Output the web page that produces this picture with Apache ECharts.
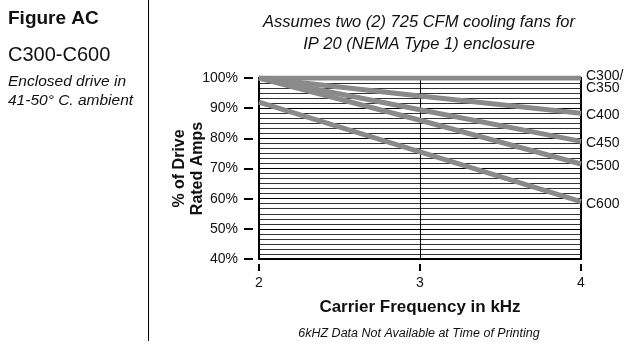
<!DOCTYPE html>
<html>
<head>
<meta charset="utf-8">
<script src="https://cdn.jsdelivr.net/npm/echarts@6/dist/echarts.min.js"></script>
<style>html,body{margin:0;padding:0;background:#fff}#c{width:636px;height:345px}</style>
</head>
<body>
<div id="c"></div>
<script>
const freqs = ['2', '3', '4'];
const yTicks = [40, 50, 60, 70, 80, 90, 100];
const c300 = [100, 100, 100];
const c400 = [100, 94, 88.3];
const c450 = [100, 89.5, 79];
const c500 = [100, 86, 71.5];
const c600 = [92, 75.5, 59];
const seriesNames = ['C300/\nC350', 'C400', 'C450', 'C500', 'C600'];
const seriesData = [c300, c400, c450, c500, c600];

const F = '"Liberation Sans", Arial, Helvetica, sans-serif';
const chart = echarts.init(document.getElementById('c'));
chart.setOption({
  animation: false,
  backgroundColor: '#fff',
  title: [
    {text: 'Figure AC', left: 8, top: 9, padding: 0, textStyle: {fontFamily: F, fontSize: 19, fontWeight: 'bold', color: '#111'}},
    {text: 'C300-C600', left: 8, top: 45, padding: 0, textStyle: {fontFamily: F, fontSize: 20, fontWeight: 'normal', color: '#111'}},
    {text: 'Enclosed drive in\n41-50° C. ambient', left: 8, top: 72, padding: 0, textStyle: {fontFamily: F, fontSize: 15.5, fontStyle: 'italic', fontWeight: 'normal', color: '#111', lineHeight: 19}},
    {text: 'Assumes two (2) 725 CFM cooling fans for\nIP 20 (NEMA Type 1) enclosure', left: 419, textAlign: 'center', top: 11, padding: 0, textStyle: {fontFamily: F, fontSize: 16.5, fontStyle: 'italic', fontWeight: 'normal', color: '#111', lineHeight: 22}},
    {text: '6kHZ Data Not Available at Time of Printing', left: 419, textAlign: 'center', top: 327, padding: 0, textStyle: {fontFamily: F, fontSize: 12.5, fontStyle: 'italic', fontWeight: 'normal', color: '#111'}}
  ],
  graphic: [
    {type: 'line', shape: {x1: 148.5, y1: 0, x2: 148.5, y2: 341}, style: {stroke: '#000', lineWidth: 1}}
  ],
  grid: {left: 259, right: 55, top: 78, bottom: 86, show: true, borderColor: '#000', borderWidth: 2, backgroundColor: 'transparent'},
  xAxis: {
    type: 'category', data: freqs, boundaryGap: false, offset: 5,
    axisLine: {show: false},
    axisTick: {show: true, length: 7, lineStyle: {color: '#000', width: 2}},
    axisLabel: {fontFamily: F, fontSize: 14, color: '#111', margin: 12},
    splitLine: {show: true, lineStyle: {color: '#000', width: 1}},
    name: 'Carrier Frequency in kHz', nameLocation: 'middle', nameGap: 35, nameMoveOverlap: false,
    nameTextStyle: {fontFamily: F, fontSize: 17, fontWeight: 'bold', color: '#111'}
  },
  yAxis: {
    type: 'value', min: 40, max: 100, interval: 10, offset: 6,
    axisLine: {show: false},
    axisTick: {show: true, length: 9, lineStyle: {color: '#000', width: 2}},
    axisLabel: {fontFamily: F, fontSize: 14, color: '#111', margin: 15, formatter: v => yTicks.includes(v) ? v + '%' : ''},
    splitLine: {show: true, lineStyle: {color: '#000', width: 1}},
    minorTick: {show: false, splitNumber: 6},
    minorSplitLine: {show: true, lineStyle: {color: '#333', width: 1}},
    name: '% of Drive\nRated Amps', nameLocation: 'middle', nameGap: 46, nameRotate: 90, nameMoveOverlap: false,
    nameTextStyle: {fontFamily: F, fontSize: 16, fontWeight: 'bold', color: '#111', lineHeight: 18}
  },
  series: seriesData.map((d, i) => ({
    name: seriesNames[i], type: 'line', data: d, symbol: 'none', z: 5,
    lineStyle: {color: '#8a8a8a', width: 5},
    endLabel: {show: true, formatter: p => p.seriesName, fontFamily: F, fontSize: 14, color: '#111', distance: 5, lineHeight: 12, offset: i === 0 ? [0, 4] : [0, 2]}
  }))
});
</script>
</body>
</html>
